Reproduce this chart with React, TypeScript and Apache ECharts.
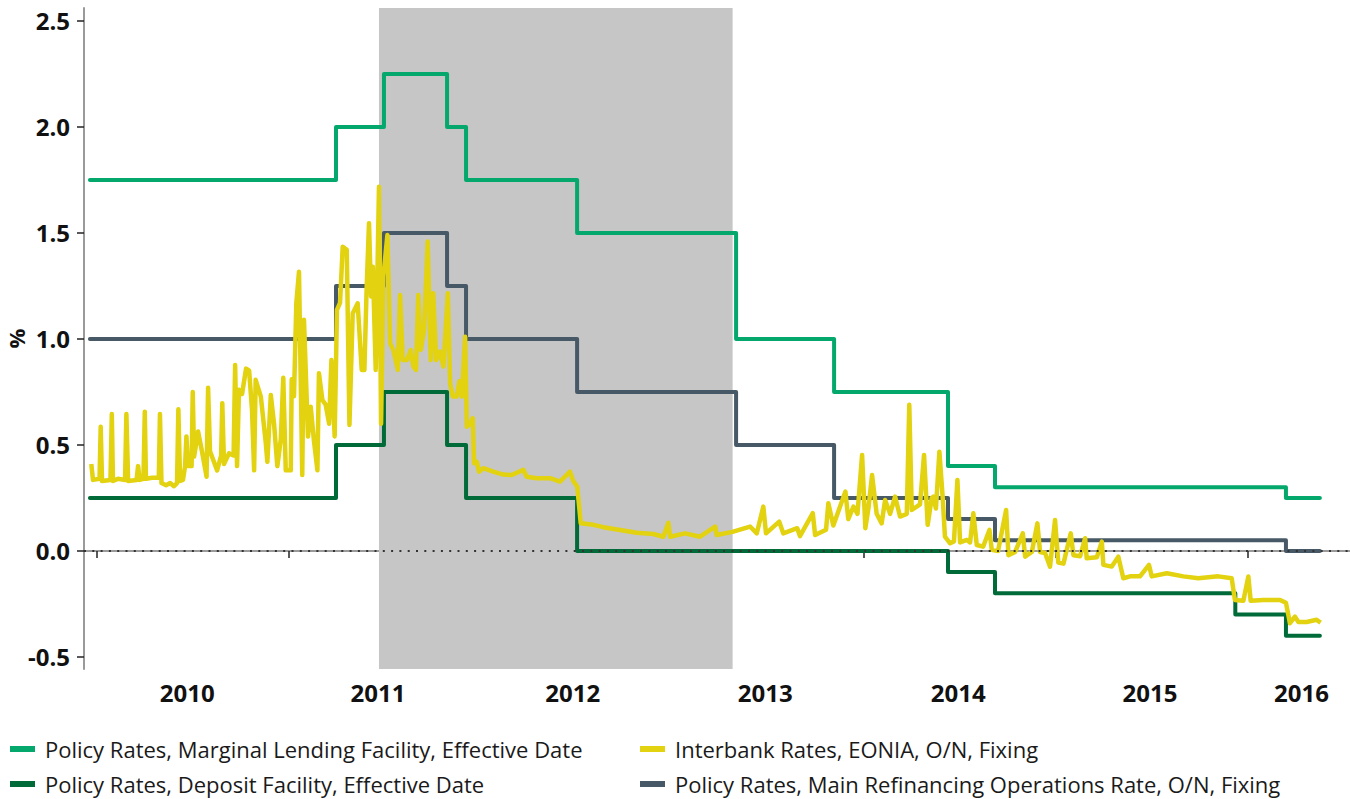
import React, { useEffect, useRef } from "react";
import * as echarts from "echarts";

// Decimal-year dates of policy rate changes (first = series start, last = series end)
const rateDates = [2009.963, 2011.246, 2011.496, 2011.825, 2011.924, 2012.503, 2013.332, 2013.843, 2014.437, 2014.682, 2015.935, 2016.199, 2016.376];
const marginalLending = [1.75, 2.0, 2.25, 2.0, 1.75, 1.5, 1.0, 0.75, 0.4, 0.3, 0.3, 0.25, 0.25];
const depositFacility = [0.25, 0.5, 0.75, 0.5, 0.25, 0.0, 0.0, 0.0, -0.1, -0.2, -0.3, -0.4, -0.4];
const mainRefi = [1.0, 1.25, 1.5, 1.25, 1.0, 0.75, 0.5, 0.25, 0.15, 0.05, 0.05, 0.0, 0.0];

// EONIA fixing: [decimal year, %]
const eonia: [number, number][] = [
  [2009.970, 0.41], [2009.979, 0.335], [2010.013, 0.34], [2010.019, 0.586], [2010.026, 0.33],
  [2010.070, 0.335], [2010.077, 0.646], [2010.083, 0.33], [2010.109, 0.34], [2010.146, 0.335],
  [2010.153, 0.646], [2010.162, 0.33], [2010.206, 0.335], [2010.214, 0.40], [2010.222, 0.335],
  [2010.242, 0.34], [2010.249, 0.657], [2010.255, 0.34], [2010.287, 0.345], [2010.322, 0.345],
  [2010.328, 0.646], [2010.336, 0.32], [2010.360, 0.31], [2010.381, 0.32], [2010.401, 0.305],
  [2010.417, 0.32], [2010.424, 0.668], [2010.433, 0.33], [2010.448, 0.335], [2010.459, 0.40],
  [2010.466, 0.54], [2010.474, 0.40], [2010.493, 0.40], [2010.499, 0.75], [2010.506, 0.445],
  [2010.527, 0.563], [2010.547, 0.47], [2010.571, 0.35], [2010.579, 0.77], [2010.589, 0.47],
  [2010.626, 0.38], [2010.647, 0.45], [2010.653, 0.697], [2010.662, 0.41], [2010.688, 0.46],
  [2010.712, 0.45], [2010.720, 0.877], [2010.730, 0.40], [2010.740, 0.76], [2010.756, 0.74],
  [2010.777, 0.86], [2010.793, 0.85], [2010.808, 0.665], [2010.819, 0.38], [2010.827, 0.807],
  [2010.854, 0.728], [2010.880, 0.508], [2010.888, 0.42], [2010.906, 0.736], [2010.923, 0.60],
  [2010.940, 0.40], [2010.958, 0.525], [2010.971, 0.817], [2010.984, 0.38], [2011.010, 0.38],
  [2011.015, 0.81], [2011.027, 0.73], [2011.039, 1.168], [2011.053, 1.317], [2011.070, 0.358],
  [2011.079, 1.09], [2011.100, 0.54], [2011.114, 0.68], [2011.131, 0.52], [2011.149, 0.38],
  [2011.157, 0.838], [2011.175, 0.712], [2011.192, 0.69], [2011.210, 0.60], [2011.222, 0.90],
  [2011.239, 0.54], [2011.251, 1.137], [2011.267, 1.17], [2011.281, 1.435], [2011.302, 1.42],
  [2011.316, 0.594], [2011.333, 1.12], [2011.359, 1.168], [2011.380, 0.854], [2011.394, 0.854],
  [2011.406, 1.247], [2011.418, 1.546], [2011.429, 1.20], [2011.438, 1.34], [2011.453, 0.854],
  [2011.470, 1.718], [2011.481, 0.60], [2011.493, 1.294], [2011.514, 1.49], [2011.528, 0.98],
  [2011.545, 0.948], [2011.568, 0.854], [2011.580, 1.207], [2011.594, 0.90], [2011.616, 0.90],
  [2011.636, 0.948], [2011.649, 0.87], [2011.663, 0.854], [2011.675, 1.207], [2011.688, 0.948],
  [2011.705, 1.04], [2011.724, 1.46], [2011.740, 0.90], [2011.753, 1.215], [2011.768, 0.90],
  [2011.788, 0.94], [2011.806, 0.87], [2011.829, 1.215], [2011.841, 0.79], [2011.855, 0.728],
  [2011.875, 0.728], [2011.889, 0.80], [2011.902, 0.728], [2011.919, 1.01], [2011.928, 0.586],
  [2011.945, 0.60], [2011.959, 0.626], [2011.966, 0.414], [2011.980, 0.42], [2011.992, 0.374],
  [2012.014, 0.39], [2012.066, 0.374], [2012.118, 0.36], [2012.162, 0.358], [2012.223, 0.382],
  [2012.240, 0.35], [2012.293, 0.343], [2012.362, 0.343], [2012.414, 0.327], [2012.466, 0.374],
  [2012.483, 0.33], [2012.504, 0.303], [2012.522, 0.13], [2012.588, 0.123], [2012.640, 0.112],
  [2012.727, 0.099], [2012.814, 0.086], [2012.901, 0.08], [2012.953, 0.067], [2012.979, 0.133],
  [2012.988, 0.067], [2013.066, 0.083], [2013.144, 0.067], [2013.223, 0.115], [2013.231, 0.075],
  [2013.313, 0.09], [2013.405, 0.115], [2013.440, 0.083], [2013.474, 0.209], [2013.488, 0.083],
  [2013.557, 0.138], [2013.578, 0.083], [2013.651, 0.107], [2013.665, 0.07], [2013.732, 0.178],
  [2013.744, 0.075], [2013.801, 0.10], [2013.813, 0.225], [2013.839, 0.12], [2013.902, 0.28],
  [2013.917, 0.15], [2013.944, 0.209], [2013.965, 0.175], [2013.989, 0.453], [2014.006, 0.107],
  [2014.022, 0.20], [2014.041, 0.358], [2014.065, 0.175], [2014.091, 0.13], [2014.109, 0.24],
  [2014.135, 0.175], [2014.161, 0.256], [2014.187, 0.162], [2014.222, 0.175], [2014.235, 0.689],
  [2014.248, 0.193], [2014.291, 0.22], [2014.312, 0.453], [2014.331, 0.123], [2014.352, 0.25],
  [2014.360, 0.256], [2014.374, 0.20], [2014.392, 0.468], [2014.409, 0.256], [2014.421, 0.067],
  [2014.448, 0.036], [2014.468, 0.045], [2014.486, 0.335], [2014.500, 0.04], [2014.535, 0.052],
  [2014.552, 0.04], [2014.569, 0.178], [2014.587, 0.028], [2014.620, 0.02], [2014.653, 0.099],
  [2014.665, 0.005], [2014.698, 0.0], [2014.740, 0.193], [2014.752, -0.02], [2014.787, -0.005],
  [2014.827, 0.083], [2014.839, -0.027], [2014.874, -0.005], [2014.903, 0.13], [2014.917, -0.005],
  [2014.943, -0.01], [2014.969, -0.074], [2014.995, 0.146], [2015.012, -0.055], [2015.039, -0.06],
  [2015.056, 0.005], [2015.077, 0.083], [2015.091, -0.02], [2015.126, -0.025], [2015.152, 0.06],
  [2015.160, -0.035], [2015.213, -0.03], [2015.239, 0.044], [2015.247, -0.066], [2015.291, -0.074],
  [2015.325, -0.027], [2015.351, -0.129], [2015.386, -0.12], [2015.438, -0.12], [2015.485, -0.066],
  [2015.499, -0.12], [2015.578, -0.105], [2015.664, -0.12], [2015.742, -0.129], [2015.846, -0.12],
  [2015.916, -0.129], [2015.933, -0.231], [2015.977, -0.235], [2016.003, -0.121], [2016.015, -0.235],
  [2016.081, -0.231], [2016.168, -0.231], [2016.199, -0.245], [2016.220, -0.341], [2016.246, -0.31],
  [2016.264, -0.335], [2016.307, -0.335], [2016.359, -0.325], [2016.380, -0.338],
];

// Shaded period (decimal years)
const shadeStart = 2011.470;
const shadeEnd = 2013.314;

// Axis ticks and labels
const xMin = 2009.932;
const xMax = 2016.533;
const yMin = -0.557;
const yMax = 2.561;
const yearTicks = [2010, 2011, 2012, 2013, 2014, 2015, 2016];
const yearLabelPos = [2010.47, 2011.465, 2012.48, 2013.484, 2014.49, 2015.49, 2016.28];
const yTicks = [-0.5, 0, 0.5, 1.0, 1.5, 2.0, 2.5];

const NAME_ML = "Policy Rates, Marginal Lending Facility, Effective Date";
const NAME_DF = "Policy Rates, Deposit Facility, Effective Date";
const NAME_EO = "Interbank Rates, EONIA, O/N, Fixing";
const NAME_MRO = "Policy Rates, Main Refinancing Operations Rate, O/N, Fixing";

const FONT = "'Open Sans', 'Noto Sans', sans-serif";

function pairs(dates: number[], vals: number[]) {
  return dates.map((d, i) => [d, vals[i]]);
}

export default function App() {
  const ref = useRef<HTMLDivElement>(null);
  useEffect(() => {
    if (!ref.current) return;
    const chart = echarts.init(ref.current, undefined, { renderer: "svg" });
    const stepLine = (name: string, color: string, vals: number[], z: number) => ({
      name,
      type: "line",
      step: "end",
      data: pairs(rateDates, vals),
      showSymbol: false,
      symbol: "none",
      z,
      lineStyle: { color, width: 4, join: "round", cap: "round" },
      itemStyle: { color },
    });
    const legendBase = {
      orient: "vertical",
      top: 736,
      padding: 0,
      icon: "rect",
      itemWidth: 25,
      itemHeight: 6,
      itemGap: 9,
      selectedMode: false,
      textStyle: { fontSize: 22, lineHeight: 26, color: "#1a1a1a", fontFamily: FONT, padding: [0, 0, 0, 5] },
    };
    chart.setOption({
      animation: false,
      textStyle: { fontFamily: FONT },
      grid: { left: 84, right: 0, top: 8, bottom: 130, containLabel: false, outerBoundsMode: "none" },
      legend: [
        { ...legendBase, data: [NAME_ML, NAME_DF], left: 10 },
        { ...legendBase, data: [NAME_EO, NAME_MRO], left: 640 },
      ],
      xAxis: {
        type: "value",
        min: xMin,
        max: xMax,
        splitLine: { show: false },
        axisLine: { show: true, lineStyle: { color: "#9a9a9a", width: 2 } },
        axisTick: {
          show: true,
          customValues: yearTicks,
          length: 7,
          lineStyle: { color: "#222", width: 1.5 },
        },
        axisLabel: {
          customValues: yearLabelPos,
          formatter: (v: number) => String(Math.floor(v)),
          fontSize: 24,
          fontWeight: "bold",
          color: "#111",
          margin: 11,
          fontFamily: FONT,
        },
      },
      yAxis: {
        type: "value",
        min: yMin,
        max: yMax,
        name: "%",
        nameLocation: "middle",
        nameRotate: 90,
        nameGap: 57,
        nameMoveOverlap: false,
        nameTextStyle: { fontSize: 22, fontWeight: "bold", color: "#111", fontFamily: FONT },
        splitLine: { show: false },
        axisLine: { show: true, lineStyle: { color: "#9a9a9a", width: 2 } },
        axisTick: {
          show: true,
          customValues: yTicks,
          length: 7,
          lineStyle: { color: "#222", width: 1.5 },
        },
        axisLabel: {
          customValues: yTicks,
          formatter: (v: number) => v.toFixed(1),
          fontSize: 24,
          fontWeight: "bold",
          color: "#111",
          margin: 14,
          fontFamily: FONT,
        },
      },
      series: [
        {
          name: "shade",
          type: "line",
          data: [],
          z: 1,
          silent: true,
          markArea: {
            silent: true,
            itemStyle: { color: "#c6c6c6" },
            data: [[{ xAxis: shadeStart }, { xAxis: shadeEnd }]],
          },
        },
        stepLine(NAME_ML, "#04a86c", marginalLending, 3),
        stepLine(NAME_DF, "#006b38", depositFacility, 3),
        stepLine(NAME_MRO, "#475966", mainRefi, 3),
        {
          name: NAME_EO,
          type: "line",
          data: eonia,
          showSymbol: false,
          symbol: "none",
          z: 4,
          lineStyle: { color: "#e2d20f", width: 4.5, join: "round" },
          itemStyle: { color: "#e2d20f" },
        },
        {
          name: "zero",
          type: "line",
          data: [[xMin, 0], [xMax, 0]],
          showSymbol: false,
          symbol: "none",
          silent: true,
          z: 10,
          lineStyle: { color: "#333", width: 2, type: [2, 6.3] },
        },
      ],
    });
    return () => chart.dispose();
  }, []);
  return (
    <div
      ref={ref}
      style={{ position: "fixed", left: 0, top: 0, width: 1350, height: 799, background: "#fff" }}
    />
  );
}
